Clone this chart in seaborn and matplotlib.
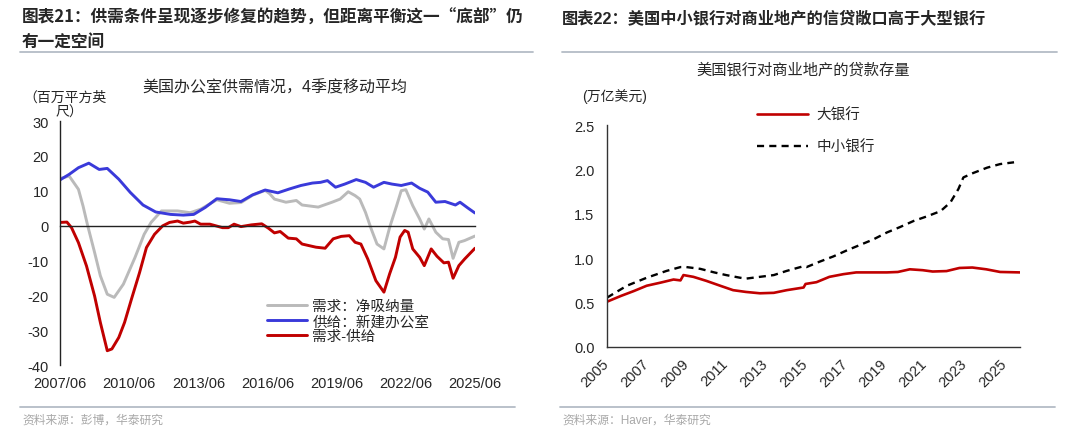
import matplotlib
matplotlib.use('Agg')
import matplotlib.pyplot as plt
import seaborn as sns
import pandas as pd
from matplotlib.lines import Line2D

# ---- chart 21: US office supply / demand, 4Q moving average ----
demand_x = [2007.5, 2007.9, 2008.3, 2008.5, 2008.7, 2009.0, 2009.25, 2009.55, 2009.85, 2010.25,
            2010.75, 2011.15, 2011.45, 2011.9, 2012.6, 2013.15, 2013.6, 2014.3, 2014.85, 2015.35,
            2015.85, 2016.4, 2016.6, 2016.8, 2017.3, 2017.75, 2018.0, 2018.7, 2019.3, 2019.65,
            2020.0, 2020.3, 2020.5, 2020.75, 2021.0, 2021.25, 2021.55, 2021.8, 2022.1, 2022.3,
            2022.5, 2022.8, 2023.1, 2023.3, 2023.5, 2023.8, 2024.1, 2024.35, 2024.55, 2024.8,
            2025.05, 2025.5]
demand = [13.5, 14.2, 10.4, 5.6, 0.0, -7.7, -14.4, -19.7, -20.6, -16.8,
          -9.2, -2.5, 0.9, 4.2, 4.2, 3.7, 4.7, 7.4, 6.4, 6.6,
          8.7, 10.1, 9.1, 7.6, 6.7, 7.2, 5.9, 5.3, 6.7, 7.6,
          9.7, 8.6, 7.6, 3.8, -1.0, -5.3, -6.7, -0.5, 5.7, 10.0,
          10.3, 5.7, 1.9, -1.0, 1.9, -1.9, -3.8, -4.0, -9.4, -4.8,
          -4.3, -3.0]

supply_x = [2007.5, 2007.9, 2008.3, 2008.75, 2009.2, 2009.55, 2010.05, 2010.55, 2011.1, 2011.65,
            2012.3, 2012.85, 2013.3, 2013.8, 2014.3, 2014.85, 2015.35, 2015.85, 2016.4, 2016.95,
            2017.45, 2017.95, 2018.45, 2018.8, 2019.1, 2019.45, 2019.85, 2020.35, 2020.75, 2021.1,
            2021.55, 2021.9, 2022.3, 2022.75, 2023.1, 2023.45, 2023.8, 2024.2, 2024.65, 2024.85,
            2025.2, 2025.5]
supply = [13.1, 14.7, 16.6, 17.9, 16.1, 16.4, 13.3, 9.5, 5.9, 3.9,
          3.2, 3.0, 3.2, 5.2, 7.7, 7.4, 6.9, 8.8, 10.2, 9.4,
          10.5, 11.5, 12.2, 12.4, 12.9, 11.0, 11.9, 13.2, 12.4, 11.0,
          12.4, 11.9, 11.5, 12.2, 10.7, 9.6, 6.7, 6.9, 5.9, 6.7,
          5.0, 3.6]

gap_x = [2007.5, 2007.8, 2008.0, 2008.3, 2008.65, 2009.0, 2009.25, 2009.55, 2009.75, 2010.05,
         2010.3, 2010.6, 2010.95, 2011.25, 2011.6, 2011.95, 2012.25, 2012.6, 2012.85, 2013.15,
         2013.35, 2013.6, 2014.0, 2014.55, 2014.8, 2015.05, 2015.35, 2015.8, 2016.25, 2016.55,
         2016.8, 2017.05, 2017.4, 2017.75, 2018.0, 2018.6, 2019.0, 2019.35, 2019.7, 2020.05,
         2020.3, 2020.55, 2020.85, 2021.2, 2021.55, 2021.8, 2022.05, 2022.25, 2022.45, 2022.6,
         2022.8, 2023.1, 2023.3, 2023.6, 2023.85, 2024.15, 2024.35, 2024.55, 2024.8, 2025.05,
         2025.5]
gap = [0.9, 1.0, -0.6, -4.9, -11.6, -20.2, -27.8, -35.9, -35.4, -32.1,
       -27.8, -21.1, -13.5, -6.3, -2.5, -0.1, 0.9, 1.3, 0.7, 1.0,
       1.3, 0.4, 0.4, -0.6, -0.6, 0.4, -0.3, 0.2, 0.5, -0.8,
       -2.1, -1.7, -3.6, -3.8, -5.3, -6.2, -6.5, -3.8, -3.1, -2.9,
       -4.8, -5.3, -9.6, -15.8, -19.1, -13.8, -9.1, -3.3, -1.4, -1.9,
       -6.7, -9.1, -11.5, -6.7, -8.8, -10.7, -10.5, -15.1, -11.5, -9.6,
       -6.5]

left_xticks = [2007.5, 2010.5, 2013.5, 2016.5, 2019.5, 2022.5, 2025.5]
left_xlabels = ['2007/06', '2010/06', '2013/06', '2016/06', '2019/06', '2022/06', '2025/06']
left_yticks = [-40, -30, -20, -10, 0, 10, 20, 30]
left_ylabels = ['-40', '-30', '-20', '-10', '0', '10', '20', '30']

# ---- chart 22: US bank CRE loans outstanding ----
small_x = [2005.0, 2006.0, 2007.0, 2008.0, 2008.7, 2009.0, 2009.7, 2010.4, 2011.0, 2011.7,
           2012.0, 2012.7, 2013.4, 2014.05, 2014.9, 2015.05, 2015.7, 2016.4, 2017.1, 2017.75,
           2018.4, 2019.1, 2019.75, 2020.45, 2021.1, 2021.8, 2022.3, 2022.7, 2022.95, 2023.45,
           2024.15, 2024.8, 2025.5]
small_banks = [0.556, 0.69, 0.78, 0.857, 0.90, 0.90, 0.88, 0.84, 0.81, 0.78,
               0.77, 0.79, 0.81, 0.857, 0.91, 0.90, 0.96, 1.02, 1.09, 1.15,
               1.21, 1.29, 1.35, 1.42, 1.47, 1.53, 1.63, 1.78, 1.91, 1.96,
               2.02, 2.06, 2.08]

large_x = [2005.0, 2005.7, 2006.35, 2007.0, 2007.7, 2008.35, 2008.7, 2008.85, 2009.35, 2010.0,
           2010.7, 2011.35, 2012.0, 2012.7, 2013.4, 2014.05, 2014.9, 2015.0, 2015.55, 2016.2,
           2016.9, 2017.55, 2018.4, 2019.1, 2019.65, 2020.25, 2020.9, 2021.4, 2022.1, 2022.75,
           2023.4, 2024.1, 2024.8, 2025.8]
large_banks = [0.51, 0.575, 0.63, 0.69, 0.725, 0.76, 0.75, 0.81, 0.79, 0.745,
               0.69, 0.64, 0.62, 0.605, 0.61, 0.64, 0.67, 0.71, 0.73, 0.79,
               0.82, 0.84, 0.84, 0.84, 0.845, 0.875, 0.865, 0.85, 0.855, 0.89,
               0.895, 0.875, 0.845, 0.84]

right_xticks = list(range(2005, 2026, 2))
right_yticks = [0.0, 0.5, 1.0, 1.5, 2.0, 2.5]
right_ylabels = ['0.0', '0.5', '1.0', '1.5', '2.0', '2.5']

sns.set_style('white')
plt.rcParams['font.family'] = ['Liberation Sans', 'Noto Sans CJK SC']
plt.rcParams['axes.unicode_minus'] = False

W, H = 1080, 431
fig = plt.figure(figsize=(W / 100, H / 100), dpi=100)


def fx(px):
    return px / W


def fy(py):
    return 1 - py / H


cjk = ['Noto Sans CJK SC', 'DejaVu Sans']

# header / footer text
fig.text(fx(22), fy(18), '图表21：供需条件呈现逐步修复的趋势，但距离平衡这一“底部”仍',
         fontsize=12, fontweight='bold', va='center', family=cjk)
fig.text(fx(22), fy(42), '有一定空间', fontsize=12, fontweight='bold', va='center', family=cjk)
fig.text(fx(562), fy(18), '图表22：美国中小银行对商业地产的信贷敞口高于大型银行',
         fontsize=11.7, fontweight='bold', va='center')

sep = '#b4bcc6'
for x0, x1 in [(20, 533), (562, 1057)]:
    fig.add_artist(Line2D([fx(x0), fx(x1)], [fy(53), fy(53)], color=sep, lw=1.3,
                          transform=fig.transFigure))
for x0, x1 in [(20, 515), (560, 1055)]:
    fig.add_artist(Line2D([fx(x0), fx(x1)], [fy(408), fy(408)], color=sep, lw=1.3,
                          transform=fig.transFigure))

fig.text(fx(22), fy(421), '资料来源：彭博，华泰研究', fontsize=8.5, color='#a8a8a8', va='center')
fig.text(fx(562), fy(421), '资料来源：Haver，华泰研究', fontsize=8.5, color='#a8a8a8', va='center')

# ---- left chart ----
ax1 = fig.add_axes([fx(60), fy(366), fx(475) - fx(60), fy(122) - fy(366)])
df_d = pd.DataFrame({'x': demand_x, 'y': demand})
df_s = pd.DataFrame({'x': supply_x, 'y': supply})
df_g = pd.DataFrame({'x': gap_x, 'y': gap})
sns.lineplot(data=df_d, x='x', y='y', ax=ax1, color='#bababa', lw=2.1, label='需求：净吸纳量')
sns.lineplot(data=df_s, x='x', y='y', ax=ax1, color='#3a3ada', lw=2.1, label='供给：新建办公室')
sns.lineplot(data=df_g, x='x', y='y', ax=ax1, color='#c00000', lw=2.1, label='需求-供给')

ax1.set_xlim(2007.5, 2025.5)
ax1.set_ylim(-40, 30)
ax1.set_xticks(left_xticks)
ax1.set_xticklabels(left_xlabels)
ax1.set_yticks(left_yticks)
ax1.set_yticklabels(left_ylabels)
ax1.set_xlabel('')
ax1.set_ylabel('')
for s in ['top', 'right']:
    ax1.spines[s].set_visible(False)
ax1.spines['bottom'].set_position(('data', 0))
for s in ['left', 'bottom']:
    ax1.spines[s].set_color('#222222')
    ax1.spines[s].set_linewidth(1.0)
ax1.tick_params(axis='x', direction='out', length=4, width=1, color='#222222',
                pad=104, labelsize=10.5)
ax1.tick_params(axis='y', direction='out', length=4, width=1, color='#222222',
                pad=4, labelsize=10.5)
ax1.legend(loc='upper left', bbox_to_anchor=(0.499, 0.27), frameon=False, fontsize=10.5,
           handlelength=2.75, handletextpad=0.35, labelspacing=0.08, borderpad=0,
           borderaxespad=0)

fig.text(fx(275), fy(88), '美国办公室供需情况，4季度移动平均', fontsize=11.5,
         ha='center', va='center')
fig.text(fx(23), fy(98), '（百万平方英', fontsize=10, va='center')
fig.text(fx(56), fy(113), '尺）', fontsize=10, va='center')

# ---- right chart ----
ax2 = fig.add_axes([fx(607), fy(348), fx(1020) - fx(607), fy(126) - fy(348)])
df_l = pd.DataFrame({'x': large_x, 'y': large_banks})
df_m = pd.DataFrame({'x': small_x, 'y': small_banks})
sns.lineplot(data=df_l, x='x', y='y', ax=ax2, color='#c00000', lw=1.9, label='大银行')
sns.lineplot(data=df_m, x='x', y='y', ax=ax2, color='black', lw=1.7,
             linestyle=(0, (3, 2.2)), label='中小银行')

ax2.set_xlim(2005, 2025.8)
ax2.set_ylim(0, 2.5)
ax2.set_xticks(right_xticks)
ax2.set_xticklabels([str(v) for v in right_xticks], rotation=45, ha='right',
                    va='center', rotation_mode='anchor')
ax2.set_yticks(right_yticks)
ax2.set_yticklabels(right_ylabels)
ax2.set_xlabel('')
ax2.set_ylabel('')
for s in ['top', 'right']:
    ax2.spines[s].set_visible(False)
for s in ['left', 'bottom']:
    ax2.spines[s].set_color('#333333')
    ax2.spines[s].set_linewidth(1.0)
ax2.tick_params(axis='x', direction='out', length=4, width=1, color='#333333',
                pad=6, labelsize=10.5)
ax2.tick_params(axis='y', direction='out', length=4, width=1, color='#333333',
                pad=5, labelsize=10.5)
ax2.legend(loc='upper left', bbox_to_anchor=(0.363, 1.076), frameon=False, fontsize=10.5,
           handlelength=3.5, handletextpad=0.6, labelspacing=1.2, borderpad=0,
           borderaxespad=0)

fig.text(fx(803), fy(70), '美国银行对商业地产的贷款存量', fontsize=11, ha='center', va='center')
fig.text(fx(582), fy(97), '(万亿美元)', fontsize=10, va='center')

fig.savefig('out.png', dpi=100)
